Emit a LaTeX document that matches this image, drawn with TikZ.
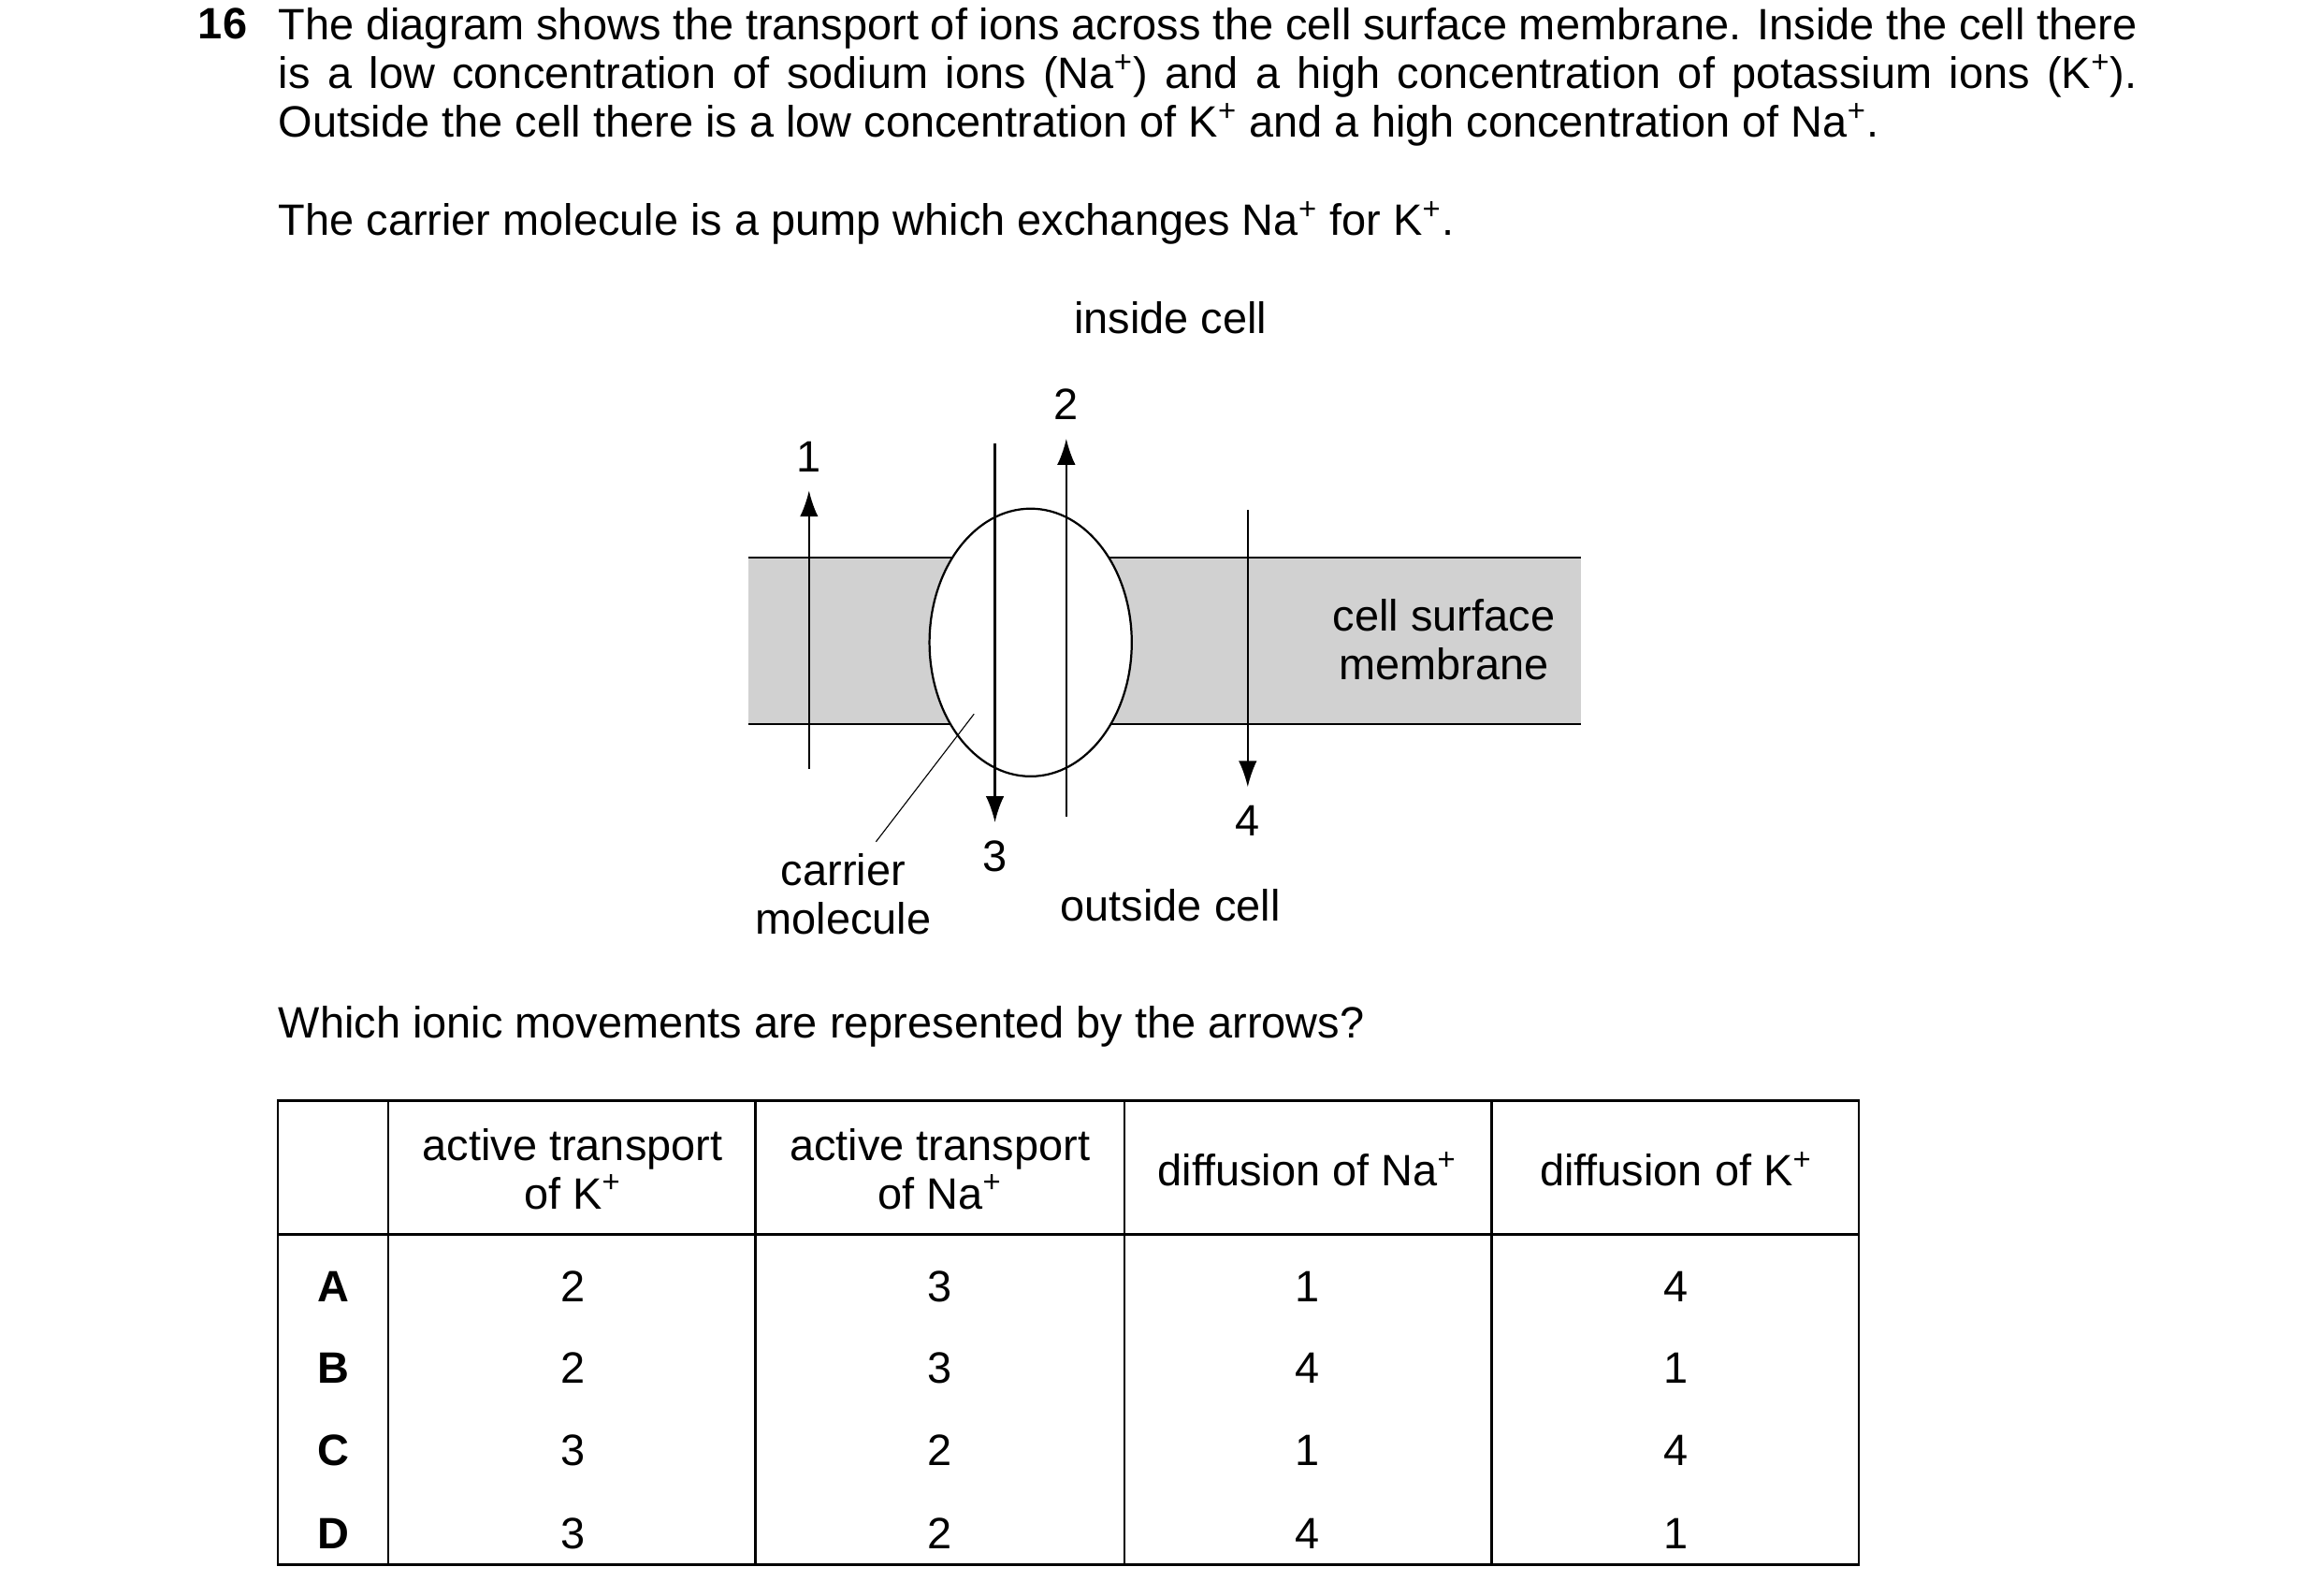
\documentclass[tikz,border=0pt]{standalone}
\usepackage{fontspec}
\setmainfont{Liberation Sans}
\usetikzlibrary{arrows.meta}

\newcommand{\pl}{\textsuperscript{+}}
\tikzset{
  ion/.style={thick,-{Latex[length=10pt,width=7pt]}},
  lab/.style={inner sep=1pt},
  cell/.style={anchor=center,align=center}
}

\begin{document}
\fontsize{16.8}{18.7}\selectfont
\begin{tikzpicture}[x=0.02cm,y=-0.02cm]
\useasboundingbox (0,0) rectangle (1560,1073);

% question text
\node[anchor=north west,inner sep=0pt] (num) at (133,5) {\textbf{16}};
\node[anchor=north west,inner sep=0pt,text width=25cm,align=justify] (intro) at (187,5)
{The diagram shows the transport of ions across the cell surface membrane. Inside the cell there\linebreak
is a low concentration of sodium ions (Na\pl) and a high concentration of potassium ions (K\pl).\linebreak
Outside the cell there is a low concentration of K\pl\ and a high concentration of Na\pl.};
\node[anchor=west,inner sep=0pt] (pump) at (187,150) {The carrier molecule is a pump which exchanges Na\pl\ for K\pl.};

% membrane
\fill[black!18] (503,375) rectangle (1063,487);
\draw[thick] (503,375) -- (1063,375);
\draw[thick] (503,487) -- (1063,487);
\draw[thick,fill=white] (693,432) ellipse [x radius=68,y radius=90];

\node[lab] (inside) at (787,214) {inside cell};
\node[lab] (outside) at (787,609) {outside cell};
\node[lab,align=center] (mem) at (971,430) {cell surface\\membrane};

% arrows
\coordinate (a1) at (544,517); \node[lab] (n1) at (544,307) {1};
\coordinate (a3) at (669,298); \node[lab] (n3) at (669,576) {3};
\coordinate (a2) at (717,549); \node[lab] (n2) at (717,272) {2};
\coordinate (a4) at (839,343); \node[lab] (n4) at (839,552) {4};
\draw[ion] (a1) -- ([yshift=-6pt]n1.south);
\draw[ion] (a3) -- ([yshift=6pt]n3.north);
\draw[ion] (a2) -- ([yshift=-6pt]n2.south);
\draw[ion] (a4) -- ([yshift=6pt]n4.north);

% carrier label
\node[lab,align=center] (carrier) at (567,601) {carrier\\molecule};
\coordinate (cm) at (655,480);
\draw (cm) -- (589,566);

\node[anchor=west,inner sep=0pt] (which) at (187,690) {Which ionic movements are represented by the arrows?};

% table
\draw[thick] (187,740) rectangle (1250,1052);
\draw[thick] (187,830) -- (1250,830);
\foreach \x in {261,508,756,1003}{
  \draw[thick] (\x,740) -- (\x,1052);
}
\node[cell] (h1) at (385,786) {active transport\\of K\pl};
\node[cell] (h2) at (632,786) {active transport\\of Na\pl};
\node[cell] (h3) at (879,786) {diffusion of Na\pl};
\node[cell] (h4) at (1127,786) {diffusion of K\pl};
\foreach \r/\y/\a/\b/\c/\d in {A/865/2/3/1/4, B/920/2/3/4/1, C/975/3/2/1/4, D/1031/3/2/4/1}{
  \node[cell] at (224,\y) {\textbf{\r}};
  \node[cell] at (385,\y) {\a};
  \node[cell] at (632,\y) {\b};
  \node[cell] at (879,\y) {\c};
  \node[cell] at (1127,\y) {\d};
}
\end{tikzpicture}
\end{document}
